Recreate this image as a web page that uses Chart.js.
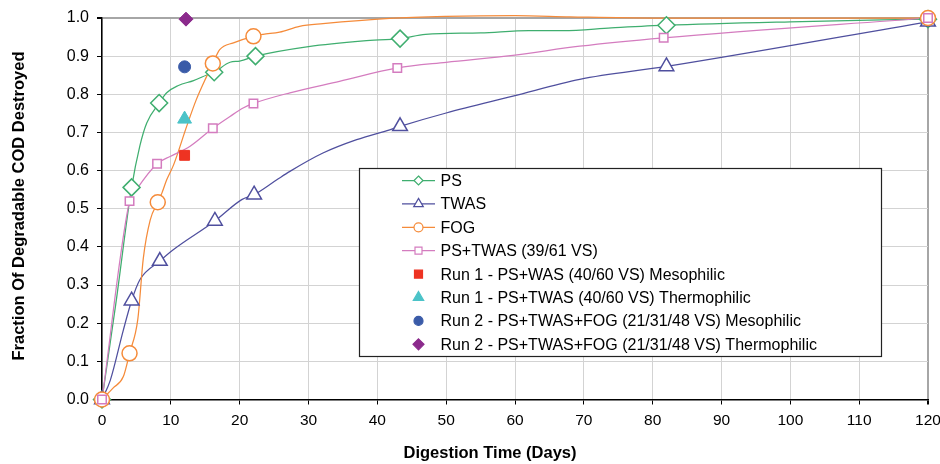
<!DOCTYPE html>
<html>
<head>
<meta charset="utf-8">
<title>Fraction of degradable COD destroyed</title>
<script src="https://cdn.jsdelivr.net/npm/chart.js@4.4.1/dist/chart.umd.min.js"></script>
<style>
  body { margin: 0; background: #fff; }
  #wrap { width: 940px; height: 464px; }
</style>
</head>
<body>
<div id="wrap"><canvas id="myChart"></canvas></div>
<script>
'use strict';

// [day, fraction] pairs
let psCurve = [[0,0],[2,0.25],[4.3,0.556],[5.5,0.665],[6.5,0.725],[8.3,0.777],[9.4,0.804],[11.1,0.823],[13.3,0.836],[15.4,0.852],[16.3,0.858],[18.6,0.884],[20,0.887],[22.3,0.9],[30,0.925],[38,0.94],[43.3,0.946],[47,0.957],[55,0.961],[62,0.967],[67,0.967],[74,0.974],[82,0.981],[100,0.99],[120,0.997]];
let psMarks = [[0,0],[4.3,0.556],[8.3,0.777],[16.3,0.858],[22.3,0.9],[43.3,0.946],[82,0.981],[120,0.997]];

let twasCurve = [[0,0],[1.2,0.05],[3.1,0.182],[4.3,0.259],[5.5,0.314],[8.4,0.363],[10.3,0.392],[16.4,0.468],[20.3,0.524],[22.1,0.537],[25.4,0.576],[27.3,0.598],[32.1,0.646],[37,0.681],[41.8,0.707],[43.3,0.716],[50,0.751],[59.7,0.795],[69.4,0.839],[82,0.873],[120,0.99]];
let twasMarks = [[0,0],[4.3,0.259],[8.4,0.363],[16.4,0.468],[22.1,0.537],[43.3,0.716],[82,0.873],[120,0.99]];

let fogCurve = [[0,0],[1.6,0.03],[3.1,0.06],[4,0.121],[5.2,0.21],[6,0.37],[7,0.47],[8.1,0.517],[8.7,0.541],[9.4,0.576],[10.4,0.615],[12.3,0.716],[13.7,0.786],[15.2,0.847],[16.1,0.881],[17.1,0.917],[19.1,0.935],[22,0.952],[23.4,0.957],[25.8,0.963],[28.7,0.978],[32.1,0.985],[41.8,0.999],[50,1.004],[60,1.006],[68,1.003],[80,1.0],[120,1.0]];
let fogMarks = [[0,0],[4,0.121],[8.1,0.517],[16.1,0.881],[22,0.952],[120,1.0]];

let mixCurve = [[0,0],[4,0.52],[5,0.55],[8,0.618],[9.9,0.637],[12.8,0.664],[16.1,0.711],[18.6,0.742],[20.5,0.764],[22,0.776],[27.3,0.804],[34.5,0.834],[42.9,0.869],[50,0.884],[59.7,0.902],[69.4,0.926],[81.6,0.948],[120,1.0]];
let mixMarks = [[0,0],[4,0.52],[8,0.618],[16.1,0.711],[22,0.776],[42.9,0.869],[81.6,0.948],[120,1.0]];

// single runs
let run1Meso = [[12,0.64]];
let run1Thermo = [[12,0.735]];
let run2Meso = [[12,0.872]];
let run2Thermo = [[12.2,0.997]];

let xTicks = [0,10,20,30,40,50,60,70,80,90,100,110,120];
let yTicks = [0,0.1,0.2,0.3,0.4,0.5,0.6,0.7,0.8,0.9,1.0];
let xTitle = 'Digestion Time (Days)';
let yTitle = 'Fraction Of Degradable COD Destroyed';

let FONT = '"Liberation Sans", Arial, sans-serif';

function pts(arr) {
  return arr.map(function (p) { return { x: p[0], y: p[1] }; });
}

// legend rows: label, colour, marker, hollow?, line?, marker size
let legendRows = [
  ['PS', '#3FAE6F', 'rectRot', true, true, 4.5],
  ['TWAS', '#4F4F9E', 'triangle', true, true, 5.5],
  ['FOG', '#F58B3A', 'circle', true, true, 4.5],
  ['PS+TWAS (39/61 VS)', '#D47CBF', 'rect', true, true, 3.5],
  ['Run 1 - PS+WAS (40/60 VS) Mesophilic', '#EE3322', 'rect', false, false, 4],
  ['Run 1 - PS+TWAS (40/60 VS) Thermophilic', '#4BC3C8', 'triangle', false, false, 6],
  ['Run 2 - PS+TWAS+FOG (21/31/48 VS) Mesophilic', '#3A5BA8', 'circle', false, false, 4.5],
  ['Run 2 - PS+TWAS+FOG (21/31/48 VS) Thermophilic', '#8B2A8C', 'rectRot', false, false, 5.5]
];

function curveSet(data, color, order) {
  return {
    data: pts(data), showLine: true, borderColor: color, borderWidth: 1.25,
    pointRadius: 0, cubicInterpolationMode: 'monotone', clip: false, order: order
  };
}

function markSet(data, color, style, radius, hollow, order) {
  return {
    data: pts(data), showLine: false, pointStyle: style, pointRadius: radius,
    pointBorderColor: color, pointBackgroundColor: hollow ? '#fff' : color,
    pointBorderWidth: hollow ? 1.5 : 1, clip: false, order: order
  };
}

function drawMark(ctx, style, x, y, r, fill, stroke) {
  ctx.beginPath();
  if (style === 'rectRot') {
    ctx.moveTo(x, y - r); ctx.lineTo(x + r, y); ctx.lineTo(x, y + r); ctx.lineTo(x - r, y); ctx.closePath();
  } else if (style === 'triangle') {
    ctx.moveTo(x, y - r);
    ctx.lineTo(x + r * 0.866, y + r * 0.5);
    ctx.lineTo(x - r * 0.866, y + r * 0.5);
    ctx.closePath();
  } else if (style === 'circle') {
    ctx.arc(x, y, r, 0, Math.PI * 2);
  } else {
    ctx.rect(x - r, y - r, r * 2, r * 2);
  }
  ctx.fillStyle = fill;
  ctx.fill();
  ctx.strokeStyle = stroke;
  ctx.lineWidth = 1.2;
  ctx.stroke();
}

// axis titles and the boxed legend inside the plot
let extras = {
  id: 'extras',
  afterDraw(chart) {
    let ctx = chart.ctx;
    ctx.save();
    ctx.fillStyle = '#000';
    ctx.font = 'bold 16.5px ' + FONT;
    ctx.textAlign = 'center';
    ctx.textBaseline = 'middle';
    ctx.fillText(xTitle, 490, 453);
    ctx.save();
    ctx.translate(19, 206);
    ctx.rotate(-Math.PI / 2);
    ctx.fillText(yTitle, 0, 0);
    ctx.restore();

    // legend box
    ctx.fillStyle = '#fff';
    ctx.fillRect(359, 168, 523, 189);
    ctx.strokeStyle = '#222';
    ctx.lineWidth = 1.2;
    ctx.strokeRect(359.5, 168.5, 522, 188);

    ctx.font = '16px ' + FONT;
    ctx.textAlign = 'left';
    for (let i = 0; i < legendRows.length; i++) {
      let row = legendRows[i];
      let y = 180.5 + i * 23.4;
      if (row[4]) {
        ctx.beginPath();
        ctx.moveTo(402, y);
        ctx.lineTo(435, y);
        ctx.strokeStyle = row[1];
        ctx.lineWidth = 1.25;
        ctx.stroke();
      }
      drawMark(ctx, row[2], 418.5, y, row[5], row[3] ? '#fff' : row[1], row[1]);
      ctx.fillStyle = '#000';
      ctx.textBaseline = 'middle';
      ctx.fillText(row[0], 440.5, y + 1);
    }
    ctx.restore();
  }
};

function gridColor(ctx) {
  return ctx.index === ctx.chart.scales[ctx.scale.id].ticks.length - 1 ? '#a6a6a6' : '#d3d3d3';
}
function gridWidth(ctx) {
  return ctx.index === ctx.chart.scales[ctx.scale.id].ticks.length - 1 ? 2 : 1;
}

let ctx = document.getElementById('myChart').getContext('2d');
let chart = new Chart(ctx, {
  type: 'scatter',
  data: {
    datasets: [
      curveSet(psCurve, '#3FAE6F', 8),
      curveSet(twasCurve, '#4F4F9E', 7),
      curveSet(fogCurve, '#F58B3A', 6),
      curveSet(mixCurve, '#D47CBF', 5),
      markSet(psMarks, '#3FAE6F', 'rectRot', 8.5, true, 4),
      markSet(twasMarks, '#4F4F9E', 'triangle', 8.5, true, 3),
      markSet(fogMarks, '#F58B3A', 'circle', 7.5, true, 2),
      markSet(mixMarks, '#D47CBF', 'rect', 6, true, 1),
      markSet(run1Meso, '#EE3322', 'rect', 7, false, 0),
      markSet(run1Thermo, '#4BC3C8', 'triangle', 8, false, 0),
      markSet(run2Meso, '#3A5BA8', 'circle', 6, false, 0),
      markSet(run2Thermo, '#8B2A8C', 'rectRot', 7, false, 0)
    ]
  },
  options: {
    responsive: true,
    maintainAspectRatio: false,
    animation: false,
    layout: { padding: { top: 18, right: 12, left: 0, bottom: 0 } },
    plugins: { legend: { display: false }, tooltip: { enabled: false } },
    scales: {
      x: {
        type: 'linear', min: 0, max: 120,
        afterBuildTicks(scale) { scale.ticks = xTicks.map(function (v) { return { value: v }; }); },
        // keep the last label from pushing the plot edge in
        afterFit(scale) { scale.height = 64.5; scale.paddingRight = 0; scale.paddingLeft = 0; },
        ticks: { color: '#000', font: { family: FONT, size: 15.5 }, padding: 7, maxRotation: 0 },
        grid: { color: gridColor, lineWidth: gridWidth, tickLength: 5, tickColor: '#000' },
        border: { color: '#000', width: 1.5 }
      },
      y: {
        type: 'linear', min: 0, max: 1,
        afterBuildTicks(scale) { scale.ticks = yTicks.map(function (v) { return { value: v }; }); },
        afterFit(scale) { scale.width = 102; },
        ticks: { color: '#000', font: { family: FONT, size: 16 }, padding: 8,
          callback: function (v) { return v.toFixed(1); } },
        grid: { color: gridColor, lineWidth: gridWidth, tickLength: 5, tickColor: '#000' },
        border: { color: '#000', width: 1.5 }
      }
    }
  },
  plugins: [extras]
});
</script>
</body>
</html>
